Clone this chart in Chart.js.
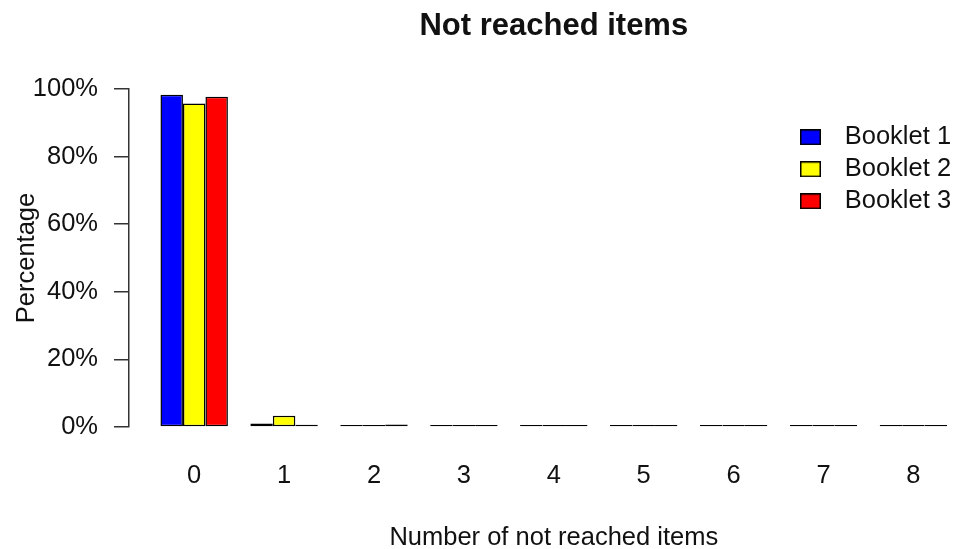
<!DOCTYPE html>
<html>
<head>
<meta charset="utf-8">
<script src="https://cdn.jsdelivr.net/npm/chart.js@4/dist/chart.umd.min.js"></script>
<style>
  html, body { margin: 0; padding: 0; background: #ffffff; }
  #wrap { width: 957px; height: 549px; overflow: hidden; position: relative; }
  canvas { display: block; }
</style>
</head>
<body>
<div id="wrap"><canvas id="c" width="990" height="549"></canvas></div>
<script>
// ---- data ----
const chartTitle = 'Not reached items';
const xAxisTitle = 'Number of not reached items';
const yAxisTitle = 'Percentage';
const categories = ['0', '1', '2', '3', '4', '5', '6', '7', '8'];
const seriesNames = ['Booklet 1', 'Booklet 2', 'Booklet 3'];
const booklet1 = [98.3, 1.0, 0.1, 0, 0, 0, 0, 0, 0];
const booklet2 = [95.7, 3.3, 0.5, 0, 0, 0, 0, 0, 0];
const booklet3 = [97.7, 0.7, 0.75, 0, 0, 0.2, 0, 0, 0];
const yTicks = [0, 20, 40, 60, 80, 100];
const seriesColors = ['#0000ff', '#ffff00', '#ff0000'];

const FONT = "'Liberation Sans', Arial, Helvetica, sans-serif";
const TEXT = '#111111';
const AXIS = '#333333';
const FS = 25.5;

// legend key images: a filled, outlined square followed by empty space (R-style gap)
function makeKey(color) {
  const k = document.createElement('canvas');
  k.width = 32; k.height = 16;
  const g = k.getContext('2d');
  g.fillStyle = color;
  g.strokeStyle = '#000000';
  g.lineWidth = 1.5;
  g.fillRect(0.75, 0.75, 19.5, 14.5);
  g.strokeRect(0.75, 0.75, 19.5, 14.5);
  return k;
}
const legendKeys = seriesColors.map(makeKey);

// move the built-in legend to the upper right, as in the reference
const legendPlace = {
  id: 'legendPlace',
  afterLayout(chart) {
    const lg = chart.legend;
    if (!lg) return;
    const pad = lg.options.labels.padding;
    const dx = (800 - pad) - lg.left;
    const dy = (124.5 - pad) - lg.top;
    lg.left += dx; lg.right += dx; lg.top += dy; lg.bottom += dy;
  }
};

const seriesData = [booklet1, booklet2, booklet3];

new Chart(document.getElementById('c'), {
  type: 'bar',
  data: {
    labels: categories,
    datasets: seriesNames.map((name, i) => ({
      label: name,
      data: seriesData[i],
      backgroundColor: seriesColors[i],
      borderColor: '#000000',
      borderWidth: 1.5,
      borderSkipped: false,
      minBarLength: 2,
      categoryPercentage: 0.75,
      barPercentage: 1.0
    }))
  },
  options: {
    responsive: false,
    devicePixelRatio: 1,
    animation: false,
    events: [],
    layout: { padding: { left: 0, right: 11.4, top: 0, bottom: 0 } },
    scales: {
      x: {
        type: 'linear',
        min: -0.725,
        max: 8.725,
        offset: false,
        grid: { display: false, drawTicks: false },
        border: { display: false },
        afterBuildTicks: (scale) => { scale.ticks = categories.map(c => ({ value: Number(c) })); },
        afterFit: (scale) => { scale.height = 122; },
        ticks: {
          padding: 34,
          color: TEXT,
          font: { family: FONT, size: FS, lineHeight: 1.2 },
          callback: (v) => String(v),
          maxRotation: 0,
          autoSkip: false
        },
        title: {
          display: true,
          text: xAxisTitle,
          color: TEXT,
          font: { family: FONT, size: FS, lineHeight: 1 },
          padding: { top: 0, bottom: -2 }
        }
      },
      y: {
        min: 0,
        max: 100,
        afterBuildTicks: (scale) => { scale.ticks = yTicks.map(v => ({ value: v })); },
        afterFit: (scale) => { scale.width = 129; },
        grid: {
          display: true,
          drawOnChartArea: false,
          drawTicks: true,
          tickLength: 15,
          color: AXIS,
          lineWidth: 1.5
        },
        border: { display: true, color: AXIS, width: 1.5 },
        ticks: {
          padding: 16,
          color: TEXT,
          font: { family: FONT, size: FS, lineHeight: 1.2 },
          callback: (v) => v + '%'
        },
        title: {
          display: true,
          text: yAxisTitle,
          color: TEXT,
          font: { family: FONT, size: FS, lineHeight: 1.2 },
          padding: { top: 12, bottom: 0 }
        }
      }
    },
    plugins: {
      tooltip: { enabled: false },
      title: {
        display: true,
        text: chartTitle,
        fullSize: false,
        color: TEXT,
        font: { family: FONT, size: 31, weight: 'bold', lineHeight: 1.2 },
        padding: { top: 7.5, bottom: 44.3 }
      },
      legend: {
        display: true,
        position: 'chartArea',
        align: 'start',
        labels: {
          usePointStyle: true,
          pointStyleWidth: 32,
          boxHeight: 16,
          padding: 6.5,
          color: TEXT,
          font: { family: FONT, size: FS, lineHeight: 1.2 },
          generateLabels: (chart) => {
            const items = Chart.defaults.plugins.legend.labels.generateLabels(chart);
            return items.map((it, i) => Object.assign(it, { pointStyle: legendKeys[i] }));
          }
        }
      }
    }
  },
  plugins: [legendPlace]
});
</script>
</body>
</html>
